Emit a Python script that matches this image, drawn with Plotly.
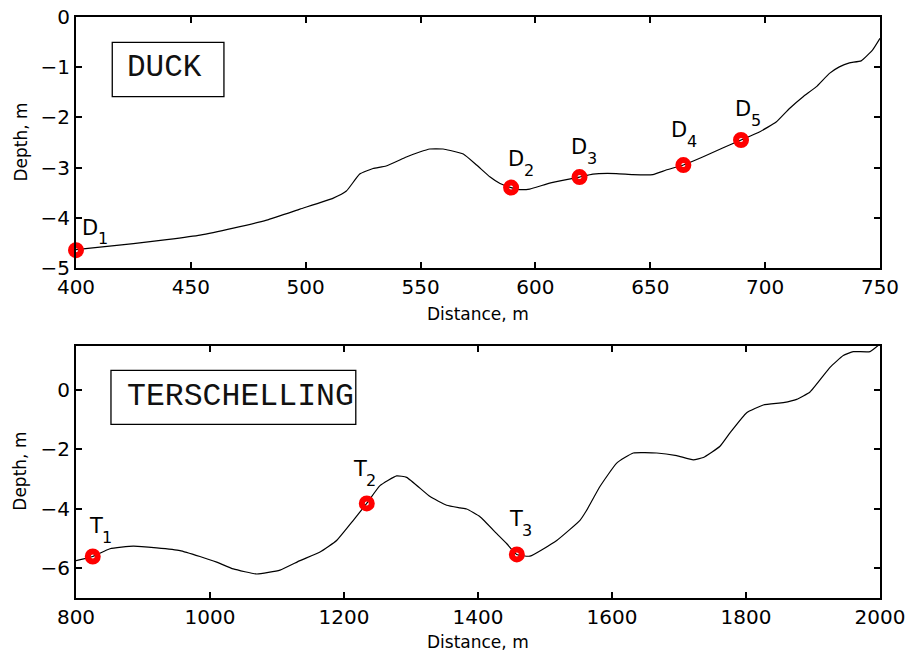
import plotly.graph_objects as go

# ---------------- data ----------------
duck_dist = [400, 410.4, 425, 439.5, 454, 468.5, 483, 497.5, 512, 517.7, 523.5, 529.3,
             535, 543.8, 549.6, 554, 559.8, 563, 568.6, 574.4, 580.3, 584.6, 589.4,
             593.2, 597.5, 606.2, 613.5, 619.2, 625, 635.2, 642.4, 651.1, 656.9, 664.4,
             672.8, 681.5, 689.5, 697.5, 704.8, 710.6, 716.4, 722.2, 728, 732.3, 736.7,
             741.8, 746.8, 750]
duck_depth = [-4.64, -4.59, -4.52, -4.44, -4.35, -4.21, -4.05, -3.83, -3.61, -3.47, -3.13,
              -3.02, -2.97, -2.79, -2.69, -2.63, -2.63, -2.66, -2.73, -2.95, -3.19, -3.32,
              -3.40, -3.44, -3.43, -3.31, -3.24, -3.19, -3.13, -3.12, -3.14, -3.14, -3.05,
              -2.95, -2.79, -2.61, -2.45, -2.29, -2.09, -1.82, -1.59, -1.39, -1.12, -0.99,
              -0.91, -0.87, -0.65, -0.42]

duck_pts_x = [400, 589.4, 619.2, 664.4, 689.5]
duck_pts_y = [-4.65, -3.40, -3.19, -2.95, -2.45]
duck_letters = ["D", "D", "D", "D", "D"]
duck_subs = ["1", "2", "3", "4", "5"]

ters_dist = [800, 825, 850.7, 885.5, 920.4, 955.2, 985, 1010, 1034.8, 1069.7, 1104.5,
             1134.3, 1164.2, 1189, 1213.9, 1233.9, 1253.7, 1278.6, 1293.5, 1328.4, 1353.2,
             1373, 1383, 1403, 1428, 1443, 1457.7, 1477.6, 1517.5, 1552.2, 1562.2, 1582,
             1607, 1631.8, 1666.7, 1696.5, 1721.3, 1736.3, 1761.2, 1776.1, 1801, 1825.8,
             1855.7, 1875.6, 1895.5, 1925.4, 1945.2, 1960.1, 1985, 2000]
ters_depth = [-5.75, -5.61, -5.35, -5.26, -5.32, -5.41, -5.61, -5.80, -6.03, -6.20, -6.07,
              -5.75, -5.46, -5.07, -4.39, -3.82, -3.22, -2.89, -2.94, -3.59, -3.88, -3.97,
              -4.01, -4.27, -4.84, -5.18, -5.54, -5.60, -5.07, -4.39, -4.05, -3.25, -2.46,
              -2.12, -2.12, -2.21, -2.35, -2.27, -1.89, -1.44, -0.76, -0.50, -0.42, -0.31,
              -0.06, 0.77, 1.17, 1.30, 1.30, 1.56]

ters_pts_x = [825, 1234, 1458]
ters_pts_y = [-5.61, -3.82, -5.54]
ters_letters = ["T", "T", "T"]
ters_subs = ["1", "2", "3"]

duck_xticks = [400, 450, 500, 550, 600, 650, 700, 750]
duck_yticks = [0, -1, -2, -3, -4, -5]
ters_xticks = [800, 1000, 1200, 1400, 1600, 1800, 2000]
ters_yticks = [0, -2, -4, -6]

# label placement (style): letter ink-left / baseline offset from marker, px (down positive)
duck_lab_off = [(7, -14.5), (-2.3, -20.6), (-7.3, -21.7), (-11.3, -26.7), (-4.7, -22.7)]
ters_lab_off = [(-4.7, -22.7), (-15, -26.6), (-8.4, -27.3)]

FONT = "DejaVu Sans"
LET_SIZE = 21
SUB_SIZE = 16
fig = go.Figure()

for xs, ys, xa, ya in [(duck_dist, duck_depth, "x", "y"), (ters_dist, ters_depth, "x2", "y2")]:
    fig.add_trace(go.Scatter(x=xs, y=ys, mode="lines",
                             line=dict(color="black", width=1.2, shape="spline", smoothing=0.4),
                             xaxis=xa, yaxis=ya, showlegend=False, cliponaxis=False,
                             hoverinfo="skip"))
for xs, ys, xa, ya in [(duck_pts_x, duck_pts_y, "x", "y"), (ters_pts_x, ters_pts_y, "x2", "y2")]:
    fig.add_trace(go.Scatter(x=xs, y=ys, mode="markers",
                             marker=dict(symbol="circle-open", size=10, color="#ff0000",
                                         line=dict(width=6, color="#ff0000")),
                             xaxis=xa, yaxis=ya, showlegend=False, cliponaxis=False))

W, H = 911, 652
xdom = [76 / W, 880 / W]
top_dom = [(H - 267.7) / H, (H - 17.3) / H]
bot_dom = [(H - 597.7) / H, (H - 345.7) / H]

axis_common = dict(showgrid=False, zeroline=False, showline=True, linecolor="black",
                   linewidth=1.8, mirror="allticks", ticks="inside", ticklen=6,
                   tickwidth=1.5, tickcolor="black", automargin=False,
                   tickfont=dict(family=FONT, size=20, color="black"))

fig.update_layout(
    width=W, height=H, margin=dict(l=0, r=0, t=0, b=0, pad=0, autoexpand=False),
    paper_bgcolor="white", plot_bgcolor="white",
    xaxis=dict(domain=xdom, range=[400, 750], tickvals=duck_xticks, anchor="y", **axis_common),
    yaxis=dict(domain=top_dom, range=[-5, 0], tickvals=duck_yticks, anchor="x", **axis_common),
    xaxis2=dict(domain=xdom, range=[800, 2000], tickvals=ters_xticks, anchor="y2", **axis_common),
    yaxis2=dict(domain=bot_dom, range=[-7, 1.5], tickvals=ters_yticks, anchor="x2", **axis_common),
)

ann = []
ADV = {"D": 0.770 * LET_SIZE, "T": 0.611 * LET_SIZE}
BEAR = {"D": 0.098 * LET_SIZE, "T": 0.0}


def add_labels(xs, ys, letters, subs, offs, xa, ya):
    for x, y, L, s, (dx, bl) in zip(xs, ys, letters, subs, offs):
        origin = dx - BEAR[L]
        ann.append(dict(x=x, y=y, xref=xa, yref=ya, text=L, showarrow=False,
                        xanchor="left", yanchor="bottom",
                        xshift=origin - 1, yshift=-(bl + 0.236 * LET_SIZE + 1),
                        font=dict(family=FONT, size=LET_SIZE, color="black")))
        sbl = bl + 10
        ann.append(dict(x=x, y=y, xref=xa, yref=ya, text=s, showarrow=False,
                        xanchor="left", yanchor="bottom",
                        xshift=origin + ADV[L] - 1, yshift=-(sbl + 0.236 * SUB_SIZE + 1),
                        font=dict(family=FONT, size=SUB_SIZE, color="black")))


add_labels(duck_pts_x, duck_pts_y, duck_letters, duck_subs, duck_lab_off, "x", "y")
add_labels(ters_pts_x, ters_pts_y, ters_letters, ters_subs, ters_lab_off, "x2", "y2")

# axis titles
for yc in [(H - 313.5) / H, (H - 642) / H]:
    ann.append(dict(x=478 / W, y=yc, xref="paper", yref="paper", text="Distance, m",
                    showarrow=False, xanchor="center", yanchor="middle",
                    font=dict(family=FONT, size=17, color="black")))
for yc in [(H - 142.5) / H, (H - 471.7) / H]:
    ann.append(dict(x=20 / W, y=yc, xref="paper", yref="paper", text="Depth, m",
                    showarrow=False, xanchor="center", yanchor="middle", textangle=-90,
                    font=dict(family=FONT, size=17, color="black")))

# site boxes
ann.append(dict(x=0.061, y=0.80, xref="x domain", yref="y domain", text="DUCK",
                showarrow=False, xanchor="left", yanchor="middle",
                font=dict(family="Liberation Mono", size=31, color="#111111")))
ann.append(dict(x=0.061, y=0.797, xref="x2 domain", yref="y2 domain", text="TERSCHELLING",
                showarrow=False, xanchor="left", yanchor="middle",
                font=dict(family="Liberation Mono", size=31.5, color="#111111")))
fig.update_layout(annotations=ann)

fig.add_shape(type="rect", xref="x domain", yref="y domain",
              x0=0.0451, x1=0.184, y0=0.683, y1=0.900,
              line=dict(color="black", width=1.3), fillcolor="rgba(0,0,0,0)")
fig.add_shape(type="rect", xref="x2 domain", yref="y2 domain",
              x0=0.0435, x1=0.348, y0=0.688, y1=0.902,
              line=dict(color="black", width=1.3), fillcolor="rgba(0,0,0,0)")

fig.write_html("out.html")
